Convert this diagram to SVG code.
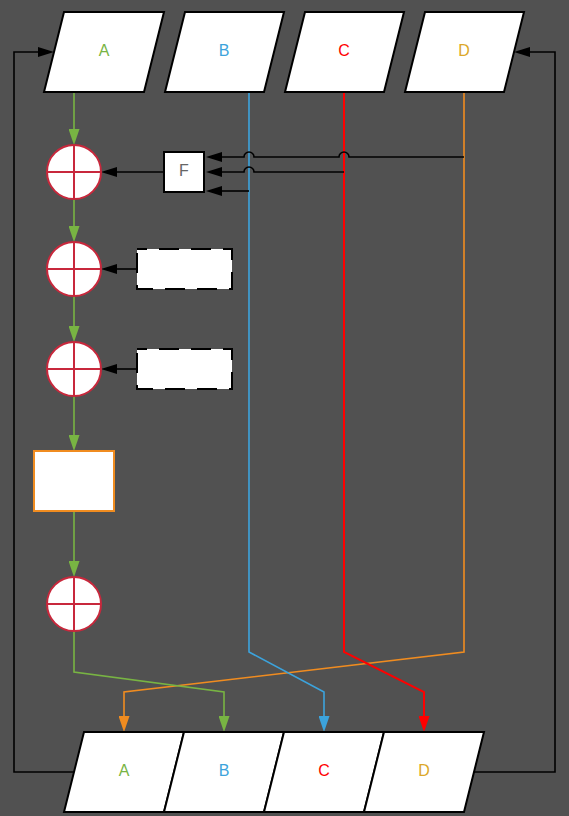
<svg xmlns="http://www.w3.org/2000/svg" width="569" height="816" viewBox="0 0 569 816">
<style>
.para{fill:#fff;stroke:#000;stroke-width:2}
.lbl{font-family:"Liberation Sans",Arial,sans-serif;font-size:16px;text-anchor:middle}
.sum circle{fill:#fff;stroke:#c8283c;stroke-width:2}
.sum line{stroke:#c8283c;stroke-width:2}
.dash{fill:#fff;stroke:#000;stroke-width:2;stroke-dasharray:20 12;stroke-dashoffset:10}
.c{fill:none;stroke-width:1.6}
.k{stroke:#000}
.g{stroke:#78b443}
.b{stroke:#3ca3dc}
.r{stroke:#ff0000;stroke-width:2}
.o{stroke:#f08c20}
</style>
<defs>
<marker id="mk" markerUnits="userSpaceOnUse" markerWidth="16" markerHeight="10" refX="0" refY="5" orient="auto"><path d="M0,0L16,5L0,10z" fill="#000"/></marker>
<marker id="mg" markerUnits="userSpaceOnUse" markerWidth="16" markerHeight="11" refX="0" refY="5.5" orient="auto"><path d="M0,0L16,5.5L0,11z" fill="#78b443"/></marker>
<marker id="mb" markerUnits="userSpaceOnUse" markerWidth="16" markerHeight="11" refX="0" refY="5.5" orient="auto"><path d="M0,0L16,5.5L0,11z" fill="#3ca3dc"/></marker>
<marker id="mr" markerUnits="userSpaceOnUse" markerWidth="16" markerHeight="11" refX="0" refY="5.5" orient="auto"><path d="M0,0L16,5.5L0,11z" fill="#ff0000"/></marker>
<marker id="mo" markerUnits="userSpaceOnUse" markerWidth="16" markerHeight="11" refX="0" refY="5.5" orient="auto"><path d="M0,0L16,5.5L0,11z" fill="#f08c20"/></marker>
</defs>
<rect width="569" height="816" fill="#515151"/>
<g id="connectors">
<path class="c o" d="M464,92V652L124,692V716" marker-end="url(#mo)"/>
<path class="c g" d="M74,92V129" marker-end="url(#mg)"/>
<path class="c g" d="M74,199V226" marker-end="url(#mg)"/>
<path class="c g" d="M74,296V326" marker-end="url(#mg)"/>
<path class="c g" d="M74,396V435" marker-end="url(#mg)"/>
<path class="c g" d="M74,511V561" marker-end="url(#mg)"/>
<path class="c g" d="M74,631V672L224,692V716" marker-end="url(#mg)"/>
<path class="c b" d="M249,92V652L324,692V716" marker-end="url(#mb)"/>
<path class="c r" d="M344,92V652L424,692V716" marker-end="url(#mr)"/>
<path class="c k" d="M464,157H349A5,5 0 0 0 339,157H254A5,5 0 0 0 244,157H222" marker-end="url(#mk)"/>
<path class="c k" d="M344,172H254A5,5 0 0 0 244,172H222" marker-end="url(#mk)"/>
<path class="c k" d="M249,191H222" marker-end="url(#mk)"/>
<path class="c k" d="M164,172H117" marker-end="url(#mk)"/>
<path class="c k" d="M137,269H117" marker-end="url(#mk)"/>
<path class="c k" d="M137,369H117" marker-end="url(#mk)"/>
<path class="c k" d="M74,772H14V52H38" marker-end="url(#mk)"/>
<path class="c k" d="M474,772H555V52H530" marker-end="url(#mk)"/>
</g>
<g id="inA"><path class="para" d="M64,12H164L144,92H44z"/><text class="lbl" x="104" y="56" fill="#78b443">A</text></g>
<g id="inB"><path class="para" d="M185,12H284L264,92H165z"/><text class="lbl" x="224" y="56" fill="#3ca3dc">B</text></g>
<g id="inC"><path class="para" d="M305,12H404L384,92H285z"/><text class="lbl" x="344" y="56" fill="#ff0000">C</text></g>
<g id="inD"><path class="para" d="M425,12H524L504,92H405z"/><text class="lbl" x="464" y="56" fill="#dca829">D</text></g>
<g id="sum1" class="sum"><circle cx="74" cy="172" r="27"/><line x1="47" y1="172" x2="101" y2="172"/><line x1="74" y1="145" x2="74" y2="199"/></g>
<g id="sum2" class="sum"><circle cx="74" cy="269" r="27"/><line x1="47" y1="269" x2="101" y2="269"/><line x1="74" y1="242" x2="74" y2="296"/></g>
<g id="sum3" class="sum"><circle cx="74" cy="369" r="27"/><line x1="47" y1="369" x2="101" y2="369"/><line x1="74" y1="342" x2="74" y2="396"/></g>
<g id="sum4" class="sum"><circle cx="74" cy="604" r="27"/><line x1="47" y1="604" x2="101" y2="604"/><line x1="74" y1="577" x2="74" y2="631"/></g>
<g id="F"><rect x="164" y="152" width="40" height="40" fill="#fff" stroke="#000" stroke-width="2"/><text class="lbl" x="184" y="176" fill="#666666">F</text></g>
<g id="box1"><rect class="dash" x="137" y="249" width="95" height="40"/></g>
<g id="box2"><rect class="dash" x="137" y="349" width="95" height="40"/></g>
<g id="proc"><rect x="34" y="451" width="80" height="60" fill="#fff" stroke="#f08c20" stroke-width="2"/></g>
<g id="outA"><path class="para" d="M84,732H184L164,812H64z"/><text class="lbl" x="124" y="776" fill="#78b443">A</text></g>
<g id="outB"><path class="para" d="M184,732H284L264,812H164z"/><text class="lbl" x="224" y="776" fill="#3ca3dc">B</text></g>
<g id="outC"><path class="para" d="M284,732H384L364,812H264z"/><text class="lbl" x="324" y="776" fill="#ff0000">C</text></g>
<g id="outD"><path class="para" d="M384,732H484L464,812H364z"/><text class="lbl" x="424" y="776" fill="#dca829">D</text></g>
</svg>
